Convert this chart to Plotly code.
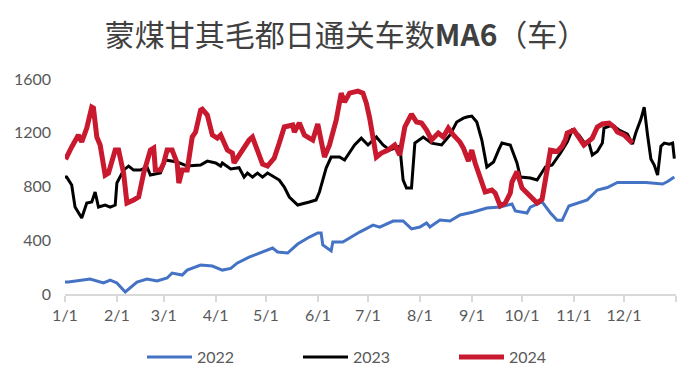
import pandas as pd
import plotly.graph_objects as go

# Day-of-year offsets (0 = 1 Jan) and values
days_2022 = [0, 2, 15, 23, 27, 31, 36, 43, 49, 55, 61, 64, 70, 73, 81, 88, 94, 99, 103, 110, 115, 124, 127,
             133, 139, 146, 151, 153, 154, 159, 160, 166, 170, 176, 184, 188, 196, 202, 207, 212, 216, 218,
             224, 230, 236, 244, 252, 260, 267, 269, 276, 278, 285, 290, 294, 297, 301, 307, 312, 318, 324,
             330, 336, 341, 347, 357, 360, 364]
vals_2022 = [90, 89, 111, 82, 104, 82, 15, 89, 111, 97, 119, 156, 141, 178, 216, 208, 178, 190, 231, 275, 298,
             342, 313, 305, 372, 424, 454, 454, 365, 320, 387, 387, 417, 461, 513, 498, 543, 543, 484, 498,
             528, 498, 551, 543, 588, 610, 640, 647, 670, 618, 603, 647, 685, 603, 548, 548, 655, 680, 700,
             774, 792, 830, 830, 825, 830, 818, 837, 870]

days_2023 = [0, 1, 4, 6, 10, 13, 16, 18, 20, 24, 27, 30, 31, 35, 38, 41, 45, 49, 51, 57, 60, 67, 73, 81, 85,
             90, 93, 94, 99, 104, 107, 109, 112, 115, 118, 121, 128, 131, 134, 139, 146, 150, 152, 156, 159,
             164, 167, 170, 173, 177, 181, 186, 190, 194, 200, 202, 204, 207, 209, 214, 219, 225, 230, 234,
             238, 240, 243, 246, 249, 252, 256, 259, 261, 266, 270, 272, 278, 282, 287, 291, 296, 300, 303,
             307, 310, 313, 315, 318, 321, 322, 327, 331, 336, 339, 341, 344, 346, 348, 350, 352, 354, 356,
             358, 361, 363, 364]
vals_2023 = [870, 870, 811, 647, 565, 677, 685, 759, 647, 662, 647, 662, 826, 922, 952, 922, 922, 945, 885,
             900, 997, 982, 952, 960, 989, 975, 952, 975, 930, 940, 870, 900, 870, 900, 870, 900, 848, 796,
             722, 662, 685, 700, 759, 937, 1019, 1019, 997, 1049, 1109, 1160, 1109, 1168, 1109, 1071, 1101,
             848, 789, 789, 1123, 1168, 1123, 1109, 1183, 1280, 1309, 1317, 1324, 1280, 1146, 945, 982, 1071,
             1123, 1109, 975, 870, 863, 848, 945, 960, 1049, 1131, 1220, 1183, 1131, 1123, 1034, 1060, 1123,
             1235, 1257, 1220, 1190, 1115, 1200, 1300, 1391, 1183, 1005, 960, 885, 1100, 1123, 1115, 1123, 1008]

days_2024 = [0, 1, 4, 8, 10, 13, 16, 17, 19, 21, 24, 26, 30, 32, 35, 37, 41, 44, 47, 51, 53, 54, 57, 59, 61,
             64, 67, 68, 70, 73, 76, 78, 81, 82, 85, 88, 91, 93, 97, 100, 101, 104, 107, 110, 112, 115, 118,
             121, 125, 128, 131, 136, 137, 140, 143, 146, 148, 151, 155, 158, 162, 165, 167, 170, 172, 175,
             178, 180, 182, 186, 189, 193, 197, 200, 203, 207, 210, 213, 216, 219, 223, 226, 229, 232, 236,
             238, 241, 243, 245, 248, 251, 255, 257, 260, 263, 266, 267, 270, 273, 276, 282, 285, 288, 290,
             294, 297, 299, 300, 304, 307, 310, 315, 318, 321, 325, 328, 330, 334, 339]
vals_2024 = [1025, 1019, 1094, 1183, 1131, 1235, 1391, 1384, 1168, 1109, 885, 900, 1071, 1071, 900, 677, 700,
             722, 900, 1071, 1086, 922, 922, 975, 1071, 1071, 975, 826, 922, 922, 1168, 1205, 1369, 1376,
             1332, 1183, 1160, 1183, 1071, 1049, 975, 1034, 1094, 1146, 1168, 1057, 967, 952, 1012, 1123,
             1243, 1257, 1205, 1272, 1183, 1160, 1146, 1265, 1019, 1109, 1294, 1495, 1428, 1495, 1503, 1510,
             1495, 1421, 1309, 1019, 1049, 1071, 1109, 1034, 1243, 1339, 1280, 1272, 1220, 1146, 1198, 1168,
             1235, 1183, 1130, 1086, 990, 1071, 975, 870, 759, 774, 751, 655, 677, 751, 833, 912, 789, 751,
             677, 705, 960, 1070, 1060, 1100, 1150, 1198, 1220, 1168, 1109, 1160, 1243, 1265, 1272, 1243,
             1205, 1183, 1123]

series = [("2022", days_2022, vals_2022, "#4472C4", 3),
          ("2023", days_2023, vals_2023, "#000000", 3),
          ("2024", days_2024, vals_2024, "#C8192E", 5)]

month_ticks = pd.date_range("2023-01-01", "2024-01-01", freq="MS")
month_labels = [f"{d.month}/1" for d in month_ticks[:-1]] + [""]

base = pd.Timestamp("2023-01-01")
fig = go.Figure()
for name, d, v, color, w in series:
    x = [base + pd.Timedelta(days=k) for k in d]
    fig.add_trace(go.Scatter(x=x, y=v, mode="lines", name=name,
                             line=dict(color=color, width=w)))

fig.update_layout(
    width=700, height=391,
    paper_bgcolor="white", plot_bgcolor="white",
    margin=dict(l=57, r=32, t=71, b=105, autoexpand=False),
    font=dict(family="Lato, Liberation Sans, sans-serif", size=16, color="#595959"),
    title=dict(text="蒙煤甘其毛都日通关车数<b>MA6</b>（车）",
               x=0.483, xanchor="center", y=1 - 27 / 391, yanchor="middle",
               font=dict(family="Noto Sans CJK SC", size=30, color="#404040")),
    showlegend=True,
    legend=dict(orientation="h", x=0.509, xanchor="center", y=42 / 391, yref="container",
                yanchor="middle", font=dict(size=16, color="#595959"), entrywidth=96,
                itemwidth=45),
)
fig.update_xaxes(type="date", range=["2023-01-01", "2024-01-01"], automargin=False,
                 tickvals=month_ticks, ticktext=month_labels,
                 showgrid=False, zeroline=False, showline=True, linecolor="#D9D9D9", linewidth=1.5,
                 ticks="outside", tickcolor="#D9D9D9", ticklen=6, tickwidth=1.5)
fig.update_yaxes(range=[0, 1600], tickvals=[0, 400, 800, 1200, 1600], showgrid=False, automargin=False,
                 zeroline=False, showline=False, ticks="", ticklabelstandoff=13)

fig.write_html("out.html")
